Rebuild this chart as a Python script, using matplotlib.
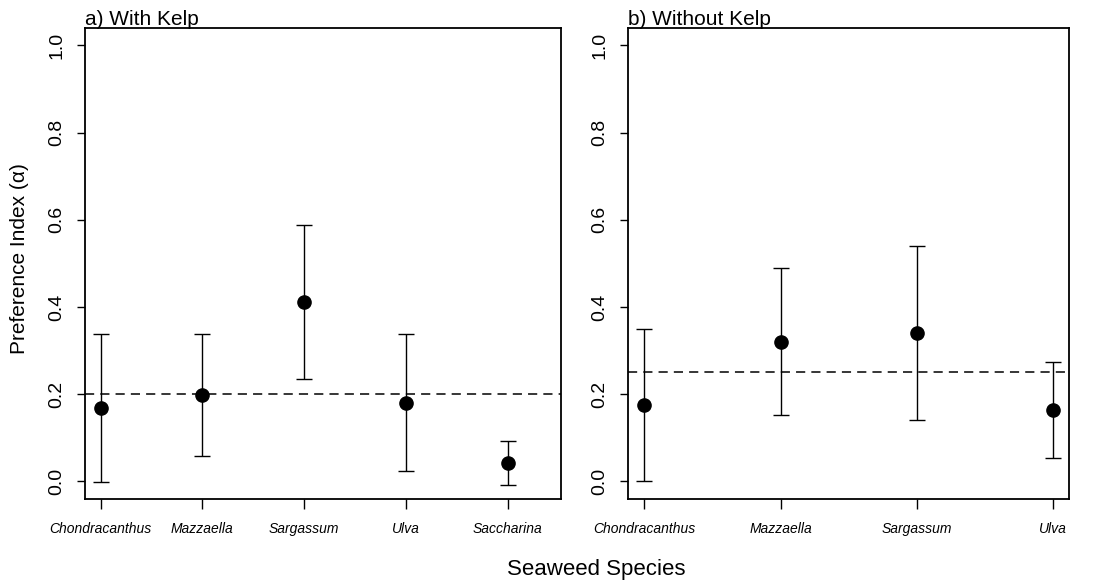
import matplotlib
matplotlib.use("Agg")
import matplotlib.pyplot as plt
import matplotlib.transforms as mtransforms

plt.rcParams['font.family'] = ['Liberation Sans', 'DejaVu Sans']

# Panel a) With Kelp
species_a = ["Chondracanthus", "Mazzaella", "Sargassum", "Ulva", "Saccharina"]
mean_a = [0.167, 0.197, 0.411, 0.180, 0.042]
upper_a = [0.339, 0.337, 0.587, 0.339, 0.092]
lower_a = [-0.002, 0.058, 0.235, 0.023, -0.008]
ref_a = 0.2

# Panel b) Without Kelp
species_b = ["Chondracanthus", "Mazzaella", "Sargassum", "Ulva"]
mean_b = [0.175, 0.320, 0.340, 0.163]
upper_b = [0.350, 0.490, 0.540, 0.273]
lower_b = [0.000, 0.151, 0.141, 0.053]
ref_b = 0.25

yticks = [0.0, 0.2, 0.4, 0.6, 0.8, 1.0]

W, H = 1107, 586
fig = plt.figure(figsize=(W / 100, H / 100), dpi=100)

def box(x0, x1, ytop, ybot):
    return [x0 / W, 1 - ybot / H, (x1 - x0) / W, (ybot - ytop) / H]

ax_a = fig.add_axes(box(85, 561, 28, 498.7))
ax_b = fig.add_axes(box(627.7, 1069, 28, 498.7))

def draw(ax, species, mean, lower, upper, ref, xlim, title):
    x = list(range(1, len(species) + 1))
    yerr = [[m - l for m, l in zip(mean, lower)], [u - m for m, u in zip(mean, upper)]]
    ax.errorbar(x, mean, yerr=yerr, fmt='o', color='black', ms=9.5,
                ecolor='black', elinewidth=1.0, capsize=5.5, capthick=1.0, zorder=3)
    ax.axhline(ref, color='black', lw=1.1, dashes=(6, 4), zorder=2)
    ax.set_xlim(*xlim)
    ax.set_ylim(-0.04, 1.04)
    ax.set_yticks(yticks)
    ax.set_yticklabels([f"{v:.1f}" for v in yticks], rotation=90, va='center', fontsize=14)
    ax.set_xticks(x)
    ax.set_xticklabels(species, fontsize=10, style='italic')
    ax.tick_params(axis='y', length=6, width=1.0, pad=8)
    ax.tick_params(axis='x', length=7, width=1.0, pad=10)
    for s in ax.spines.values():
        s.set_linewidth(1.3)
    off = mtransforms.offset_copy(ax.transAxes, fig=fig, x=0, y=3, units='dots')
    ax.text(0, 1, title, transform=off, ha='left', va='baseline', fontsize=15)

draw(ax_a, species_a, mean_a, lower_a, upper_a, ref_a, (0.846, 5.524), "a) With Kelp")
draw(ax_b, species_b, mean_b, lower_b, upper_b, ref_b, (0.878, 4.117), "b) Without Kelp")

fig.text(20 / W, 1 - 259 / H, "Preference Index (α)", rotation=90, ha='center', va='center', fontsize=15)
fig.text(596.5 / W, 1 - 569 / H, "Seaweed Species", ha='center', va='center', fontsize=16)

fig.savefig("out.png", dpi=100)
